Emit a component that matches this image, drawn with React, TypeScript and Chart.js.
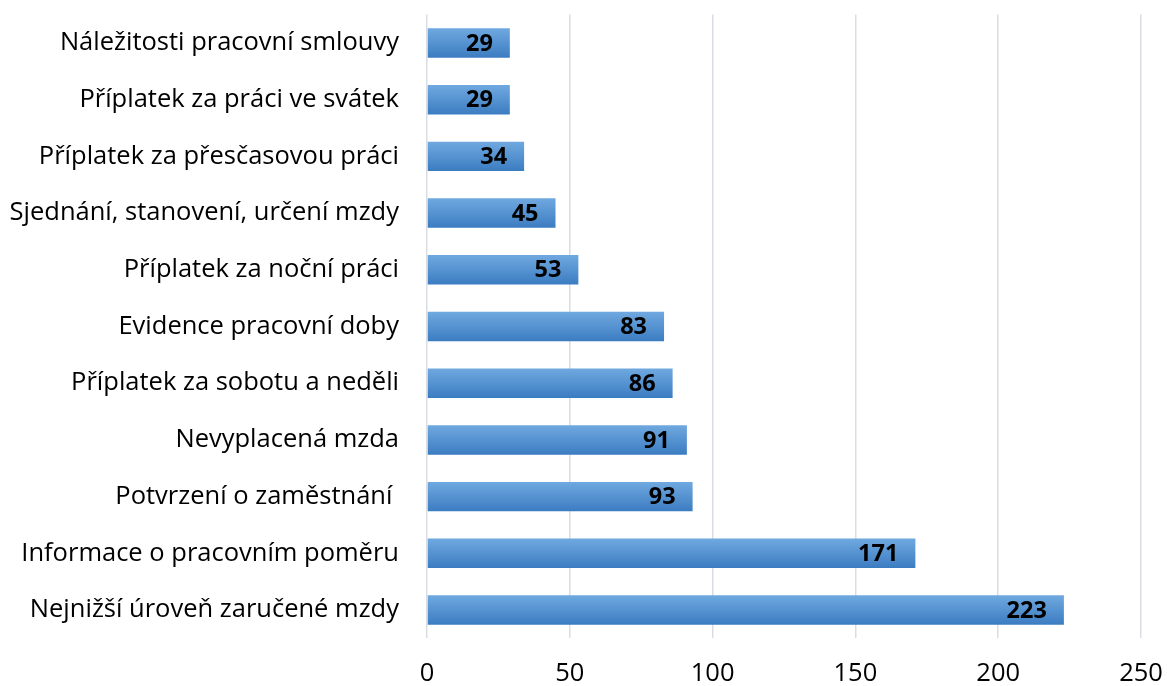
import React, { useEffect, useRef } from "react";
import { Chart, registerables } from "chart.js";

Chart.register(...registerables);

const categories = [
  "Náležitosti pracovní smlouvy",
  "Příplatek za práci ve svátek",
  "Příplatek za přesčasovou práci",
  "Sjednání, stanovení, určení mzdy",
  "Příplatek za noční práci",
  "Evidence pracovní doby",
  "Příplatek za sobotu a neděli",
  "Nevyplacená mzda",
  "Potvrzení o zaměstnání ",
  "Informace o pracovním poměru",
  "Nejnižší úroveň zaručené mzdy",
];
const values = [29, 29, 34, 45, 53, 83, 86, 91, 93, 171, 223];
const xTicks = [0, 50, 100, 150, 200, 250];

const FONT = "'Open Sans', 'DejaVu Sans', sans-serif";

const gradientPlugin = {
  id: "barGradient",
  beforeDatasetsDraw(chart: any) {
    const ctx = chart.ctx;
    chart.getSortedVisibleDatasetMetas().forEach((meta: any) => {
      meta.data.forEach((el: any) => {
        const h = el.height;
        const g = ctx.createLinearGradient(0, el.y - h / 2, 0, el.y + h / 2);
        g.addColorStop(0, "#70a9e0");
        g.addColorStop(1, "#3b7cc1");
        el.options.backgroundColor = g;
      });
    });
  },
};

const labelPlugin = {
  id: "valueLabels",
  afterDatasetsDraw(chart: any) {
    const ctx = chart.ctx;
    ctx.save();
    ctx.font = `bold 23.5px ${FONT}`;
    ctx.fillStyle = "#000";
    ctx.textAlign = "right";
    ctx.textBaseline = "middle";
    chart.getSortedVisibleDatasetMetas().forEach((meta: any) => {
      meta.data.forEach((el: any, i: number) => {
        const v = chart.data.datasets[meta.index].data[i];
        ctx.fillText(String(v), el.x - 17, el.y + 1);
      });
    });
    ctx.restore();
  },
};

export default function App() {
  const ref = useRef<HTMLCanvasElement>(null);
  useEffect(() => {
    document.body.style.margin = "0";
    const chart = new Chart(ref.current!, {
      type: "bar",
      data: {
        labels: categories,
        datasets: [
          {
            data: values,
            backgroundColor: () => "#4f8fd0",
            borderWidth: 0,
            categoryPercentage: 1,
            barPercentage: 0.52,
          },
        ],
      },
      options: {
        indexAxis: "y",
        animation: false,
        responsive: false,
        maintainAspectRatio: false,
        layout: { padding: { top: 14.6, right: 26, left: 0, bottom: 0 } },
        plugins: { legend: { display: false }, tooltip: { enabled: false } },
        scales: {
          x: {
            min: 0,
            max: 250,
            afterBuildTicks: (scale: any) => {
              scale.ticks = xTicks.map((v) => ({ value: v }));
            },
            afterFit: (scale: any) => {
              scale.height = 47.6;
              scale.paddingLeft = 0;
              scale.paddingRight = 0;
            },
            grid: { color: "#d9dde3", lineWidth: 1.5, drawTicks: false },
            border: { display: false },
            ticks: {
              padding: 20,
              color: "#000",
              font: { family: FONT, size: 25.5 },
            },
          },
          y: {
            afterFit: (scale: any) => {
              scale.width = 427;
              scale.paddingTop = 0;
              scale.paddingBottom = 0;
            },
            grid: { display: false, drawTicks: false },
            border: { display: false },
            ticks: {
              padding: 28,
              color: "#000",
              font: { family: FONT, size: 25.5 },
            },
          },
        },
      },
      plugins: [gradientPlugin, labelPlugin],
    });
    return () => chart.destroy();
  }, []);
  return (
    <div style={{ width: 1167, height: 686 }}>
      <canvas ref={ref} width={1167} height={686} />
    </div>
  );
}
